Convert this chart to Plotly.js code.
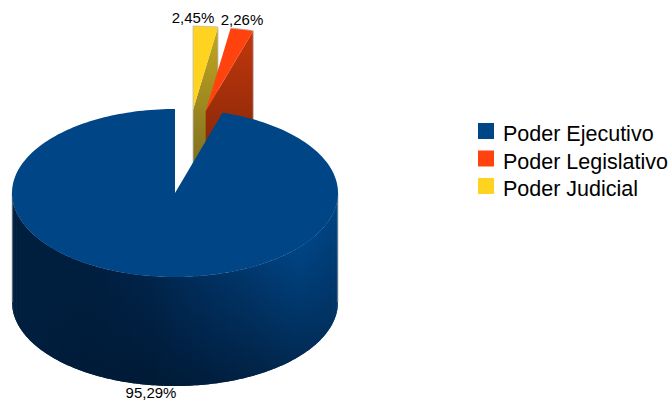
<!DOCTYPE html>
<html><head><meta charset="utf-8">
<script src="https://cdn.plot.ly/plotly-3.0.1.min.js"></script>
<style>html,body{margin:0;padding:0;background:#fff}#c{width:672px;height:406px}</style>
</head><body><div id="c"></div>
<script>
const categories = ["Poder Ejecutivo", "Poder Legislativo", "Poder Judicial"];
const values = [95.29, 2.26, 2.45];
const labels = ["95,29%", "2,26%", "2,45%"];
const colors = ["#004586", "#ff420e", "#ffd320"];

// shading of the main slice's outer wall, read across the picture
const shadeX = [12, 90, 150, 200, 250, 300, 338];
const shadeTop = [[0,31,63],[0,31,63],[1,36,74],[1,46,92],[1,56,110],[0,69,134],[0,66,128]];
const shadeBottom = [[0,31,63],[0,27,56],[0,26,53],[0,29,60],[1,34,68],[1,43,85],[1,50,98]];

const cx = 175, cy = 193, rx = 163, ry = 84, depth = 109;
const FONT = "Liberation Sans, Arial, sans-serif";
const total = values.reduce((a, b) => a + b, 0);
const deg = v => v / total * 360;
const jud = [0, deg(values[2])];
const leg = [jud[1], jud[1] + deg(values[1])];
const eje = [leg[1], 360];
const pt = (a, c) => [c[0] + rx * Math.sin(a * Math.PI / 180), c[1] - ry * Math.cos(a * Math.PI / 180)];
function arc(a0, a1, c, n) {
  const out = [];
  for (let i = 0; i <= n; i++) out.push(pt(a0 + (a1 - a0) * i / n, c));
  return out;
}
function poly(points, extra) {
  return Object.assign({
    x: points.map(p => p[0]), y: points.map(p => p[1]),
    mode: "none", fill: "toself", showlegend: false, hoverinfo: "skip"
  }, extra);
}
function outline(points) {
  return {x: points.map(p => p[0]), y: points.map(p => p[1]), mode: "lines",
    line: {color: "#bdbdbd", width: 0.8}, showlegend: false, hoverinfo: "skip"};
}
function faceAt(a, c) {
  const e = pt(a, c);
  return [c, e, [e[0], e[1] + depth], [c[0], c[1] + depth], c];
}
function shadeAt(x, table) {
  let i = 0;
  while (i < shadeX.length - 2 && x > shadeX[i + 1]) i++;
  const f = Math.min(1, Math.max(0, (x - shadeX[i]) / (shadeX[i + 1] - shadeX[i])));
  const c = table[i].map((v, k) => Math.round(v + (table[i + 1][k] - v) * f));
  return "rgb(" + c.join(",") + ")";
}
const traces = [];
// exploded slices
const cJ = [193, 110], cL = [205.7, 111];
const jEnd = pt(jud[1], cJ), lEnd = pt(leg[1], cL);
traces.push(poly(faceAt(jud[1], cJ), {
  fillgradient: {type: "vertical", start: 27, stop: 165, colorscale: [[0, "#c4a820"], [1, "#7f7020"]]}}));
traces.push(poly([cJ].concat(arc(jud[0], jud[1], cJ, 12), [cJ]), {fillcolor: colors[2]}));
traces.push(outline([[cJ[0], cJ[1] + depth]].concat(arc(jud[0], jud[1], cJ, 12), [[jEnd[0], jEnd[1] + depth]])));
traces.push(poly(faceAt(leg[1], cL), {
  fillgradient: {type: "vertical", start: 30, stop: 170, colorscale: [[0, "#c4370c"], [1, "#7e2608"]]}}));
traces.push(poly([cL].concat(arc(leg[0], leg[1], cL, 12), [cL]), {fillcolor: colors[1]}));
traces.push(outline(arc(leg[0], leg[1], cL, 12).concat([[lEnd[0], lEnd[1] + depth]])));
// main slice: outer wall in narrow strips
const bottom = [cx, cy + depth];
for (let a = 270; a > 90; a -= 1) {
  const hi = Math.max(a - 2, 90);
  const ring = arc(a, hi, [cx, cy], 2).concat(arc(hi, a, bottom, 2));
  ring.push(ring[0]);
  const xm = (pt(a, [cx, cy])[0] + pt(a - 1, [cx, cy])[0]) / 2;
  const ys = ring.map(p => p[1]);
  const y0 = Math.min.apply(null, ys), y1 = Math.max.apply(null, ys);
  traces.push(poly(ring, {fillgradient: {type: "vertical", start: y0, stop: y1,
    colorscale: [[0, shadeAt(xm, shadeTop)], [1, shadeAt(xm, shadeBottom)]]}}));
}
traces.push(outline([[cx - rx, cy], [cx - rx, cy + depth]]));
traces.push(outline([[cx + rx, cy], [cx + rx, cy + depth]]));
traces.push(poly([[cx, cy]].concat(arc(eje[0], eje[1], [cx, cy], 240), [[cx, cy]]), {fillcolor: colors[0]}));
// legend entries
categories.forEach((name, i) => traces.push({
  x: [null], y: [null], mode: "markers", name: name,
  marker: {symbol: "square", size: 16, color: colors[i]}, hoverinfo: "skip"
}));
// data labels
traces.push({
  x: [151, 242, 193], y: [394, 21, 19], mode: "text", text: labels,
  textposition: "middle center", textfont: {family: FONT, size: 15, color: "#000"},
  showlegend: false, hoverinfo: "skip"
});
const layout = {
  width: 672, height: 406, margin: {l: 0, r: 0, t: 0, b: 0, autoexpand: false},
  paper_bgcolor: "#fff", plot_bgcolor: "#fff",
  xaxis: {range: [0, 672], visible: false, fixedrange: true},
  yaxis: {range: [406, 0], visible: false, fixedrange: true},
  legend: {x: 463 / 672, y: 1 - 119 / 406, xanchor: "left", yanchor: "top",
    font: {family: FONT, size: 21.5, color: "#000"}, bgcolor: "rgba(0,0,0,0)", traceorder: "normal"},
  showlegend: true
};
Plotly.newPlot("c", traces, layout, {staticPlot: true, displayModeBar: false}).then(gd => {
  // the reference sets its rows closer, and its swatches nearer the text, than the defaults
  gd.querySelectorAll(".legend .traces").forEach((g, i) => {
    g.setAttribute("transform", "translate(0," + (14 + i * 27.5) + ")");
    const sym = g.querySelector(".legendsymbols");
    if (sym) sym.setAttribute("transform", "translate(3,-2)");
  });
});
</script></body></html>
